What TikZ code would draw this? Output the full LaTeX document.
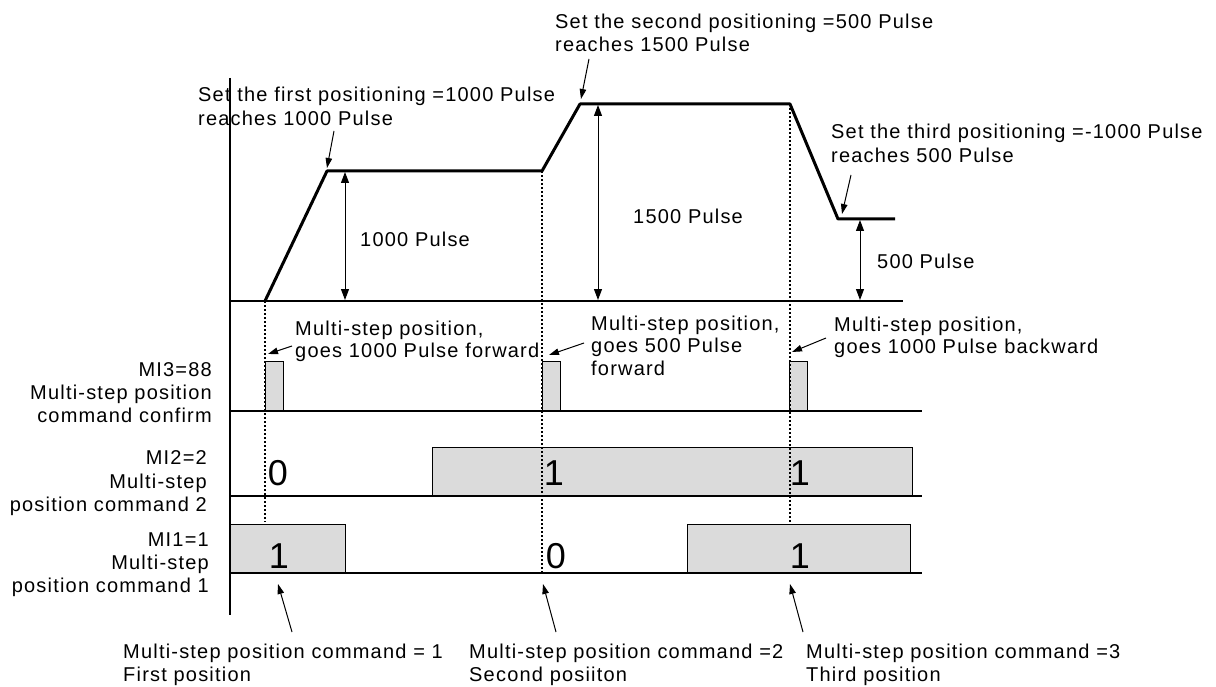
\documentclass[tikz,border=0pt]{standalone}
\usepackage{fontspec}
\setmainfont{Liberation Sans}[LetterSpace=6]
\usetikzlibrary{arrows.meta}
\begin{document}
\begin{tikzpicture}[x=1pt,y=-1pt,
  txt/.style={inner sep=0pt,font=\fontsize{20}{23}\selectfont},
  digit/.style={inner sep=0pt,font=\fontsize{36}{36}\selectfont},
  profile/.style={line width=3pt,line join=round},
  axisline/.style={line width=1.3pt},
  sigbox/.style={draw,line width=1.3pt,fill=black!14},
  guide/.style={line width=1.6pt,dash pattern=on 1.6pt off 2.4pt},
  ptr/.style={line width=1pt,-{Triangle[length=10pt,width=6.5pt]}},
  dim/.style={line width=1pt,{Triangle[length=11pt,width=8pt]}-{Triangle[length=11pt,width=8pt]}}]
\useasboundingbox (0,0) rectangle (1216,687);

% axes and baselines
\coordinate (axT) at (230,78);
\coordinate (axB) at (230,615);
\draw[axisline] (axT) -- (axB);
\coordinate (b0L) at (230,301); \coordinate (b0R) at (903,301);
\coordinate (b3L) at (230,411); \coordinate (b3R) at (922,411);
\coordinate (b2L) at (230,496); \coordinate (b2R) at (922,496);
\coordinate (b1L) at (230,573); \coordinate (b1R) at (922,573);
\draw[axisline] (b0L) -- (b0R);

% signal boxes
\node[sigbox,minimum width=18pt,minimum height=49pt,anchor=south west] (p1) at (265,411) {};
\node[sigbox,minimum width=18pt,minimum height=49pt,anchor=south west] (p2) at (542,411) {};
\node[sigbox,minimum width=18pt,minimum height=49pt,anchor=south west] (p3) at (789,411) {};
\node[sigbox,minimum width=480pt,minimum height=48pt,anchor=south west] (m2a) at (432,496) {};
\node[sigbox,minimum width=115pt,minimum height=48pt,anchor=south west] (m1a) at (230,573) {};
\node[sigbox,minimum width=223pt,minimum height=48pt,anchor=south west] (m1b) at (687,573) {};
\draw[axisline] (b3L) -- (b3R);
\draw[axisline] (b2L) -- (b2R);
\draw[axisline] (b1L) -- (b1R);

% profile
\coordinate (q0) at (265,301);
\coordinate (q1) at (327,171);
\coordinate (q2) at (542,171);
\coordinate (q3) at (580,104);
\coordinate (q4) at (790,104);
\coordinate (q5) at (838,219);
\coordinate (q6) at (895,219);
\draw[profile] (q0) -- (q1) -- (q2) -- (q3) -- (q4) -- (q5) -- (q6);

% guide lines
\coordinate (g1e) at (265,522);
\coordinate (g2e) at (542,573);
\coordinate (g3e) at (790,525);
\draw[guide] (q0) -- (g1e);
\draw[guide] (q2) -- (g2e);
\draw[guide] (q4) -- (g3e);

% dimension arrows
\coordinate (d1t) at (345,172); \coordinate (d1b) at (345,300);
\coordinate (d2t) at (598,105); \coordinate (d2b) at (598,300);
\coordinate (d3t) at (860,220); \coordinate (d3b) at (860,300);
\draw[dim] (d1t) -- (d1b);
\draw[dim] (d2t) -- (d2b);
\draw[dim] (d3t) -- (d3b);
\node[txt,anchor=north west] (l1000) at (360,231.5) {1000 Pulse};
\node[txt,anchor=north west] (l1500) at (633,208.5) {1500 Pulse};
\node[txt,anchor=north west] (l500) at (877,253.5) {500 Pulse};

% top annotations
\node[txt,anchor=north west,align=left,font=\fontsize{20}{24}\selectfont] (setA) at (198,86.5) {Set the first positioning =1000 Pulse\\reaches 1000 Pulse};
\node[txt,anchor=north west,align=left,font=\fontsize{20}{23}\selectfont] (setB) at (555,13.5) {Set the second positioning =500 Pulse\\reaches 1500 Pulse};
\node[txt,anchor=north west,align=left,font=\fontsize{20}{24}\selectfont] (setC) at (831,123.5) {Set the third positioning =-1000 Pulse\\reaches 500 Pulse};
\coordinate (sA) at (334,131); \coordinate (tA) at (327,168);
\coordinate (sB) at (589,59);  \coordinate (tB) at (581,99);
\coordinate (sC) at (851,175); \coordinate (tC) at (842,214);
\draw[ptr] (sA) -- (tA);
\draw[ptr] (sB) -- (tB);
\draw[ptr] (sC) -- (tC);

% step annotations
\node[txt,anchor=north west,align=left,font=\fontsize{20}{22}\selectfont] (ann1) at (295,320.5) {Multi-step position,\\goes 1000 Pulse forward};
\node[txt,anchor=north west,align=left,font=\fontsize{20}{22.5}\selectfont] (ann2) at (591,315.5) {Multi-step position,\\goes 500 Pulse\\forward};
\node[txt,anchor=north west,align=left,font=\fontsize{20}{22.5}\selectfont] (ann3) at (834,316.5) {Multi-step position,\\goes 1000 Pulse backward};
\coordinate (s1) at (292,346); \coordinate (t1) at (268,354);
\coordinate (s2) at (584,343); \coordinate (t2) at (549,355);
\coordinate (s3) at (826,338); \coordinate (t3) at (792,352);
\draw[ptr] (s1) -- (t1);
\draw[ptr] (s2) -- (t2);
\draw[ptr] (s3) -- (t3);

% digits
\node[digit] (v20) at (278,473) {0};
\node[digit] (v21) at (554,473) {1};
\node[digit] (v22) at (800,473) {1};
\node[digit] (v10) at (279,556) {1};
\node[digit] (v11) at (556,556) {0};
\node[digit] (v12) at (800,556) {1};

% left labels
\node[txt,anchor=north east,align=right] (mi3) at (212,362.5) {MI3=88\\Multi-step position\\command confirm};
\node[txt,anchor=north east,align=right,font=\fontsize{20}{23.5}\selectfont] (mi2) at (207,450.5) {MI2=2\\Multi-step\\position command 2};
\node[txt,anchor=north east,align=right] (mi1) at (209,532.5) {MI1=1\\Multi-step\\position command 1};

% bottom labels
\node[txt,anchor=north west,align=left] (bot1) at (123,643.5) {Multi-step position command = 1\\First position};
\node[txt,anchor=north west,align=left] (bot2) at (469,643.5) {Multi-step position command =2\\Second posiiton};
\node[txt,anchor=north west,align=left] (bot3) at (806,643.5) {Multi-step position command =3\\Third position};
\coordinate (u1) at (292,632); \coordinate (w1) at (278,584);
\coordinate (u2) at (556,632); \coordinate (w2) at (543,584);
\coordinate (u3) at (803,632); \coordinate (w3) at (790,584);
\draw[ptr] (u1) -- (w1);
\draw[ptr] (u2) -- (w2);
\draw[ptr] (u3) -- (w3);
\end{tikzpicture}
\end{document}
